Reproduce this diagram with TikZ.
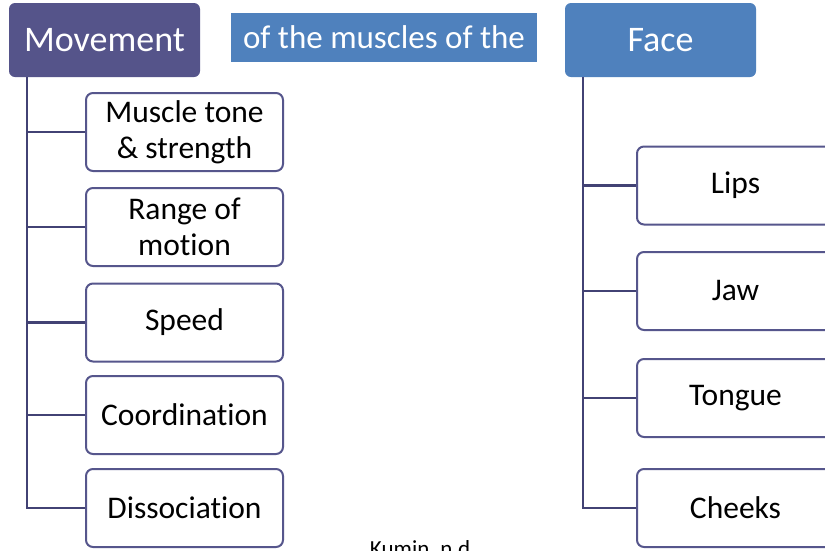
\documentclass[tikz,border=0pt]{standalone}
\usepackage{fontspec}
\setmainfont[Ligatures=NoCommon]{Carlito}
\definecolor{headpurple}{HTML}{55548A}
\definecolor{headblue}{HTML}{4F81BD}
\definecolor{linkline}{HTML}{424274}
\definecolor{boxedge}{HTML}{56568C}
\begin{document}
\begin{tikzpicture}[x=1pt,y=-1pt,
  header/.style={rounded corners=6pt, text=white, inner sep=0pt,
    font=\fontsize{36}{40}\selectfont},
  leaf/.style={draw=boxedge, line width=2pt, rounded corners=7pt, fill=white,
    minimum width=197pt, minimum height=78pt, inner sep=0pt, align=center,
    font=\fontsize{31.5}{36}\selectfont},
  link/.style={draw=linkline, line width=2.2pt}]
\useasboundingbox (0,0) rectangle (825,550);
\clip (0,0) rectangle (825,550);
\fill[white] (0,0) rectangle (825,550);

% headings
\node[header, fill=headpurple, minimum width=191pt, minimum height=74pt] (move) at (104.5,40) {Movement};
\node[fill=headblue, text=white, inner sep=0pt, minimum width=306pt, minimum height=49pt,
  font=\fontsize{33}{38}\selectfont] (middle) at (384,37.5) {of the muscles of the};
\node[header, fill=headblue, minimum width=191pt, minimum height=74pt] (face) at (660.5,40) {Face};

% left branch
\node[leaf] (tone)  at (184.5,132) {Muscle tone\\\& strength};
\node[leaf] (range) at (184.5,227) {Range of\\motion};
\node[leaf] (speed) at (184.5,322.5) {Speed};
\node[leaf] (coord) at (184.5,415) {Coordination};
\node[leaf] (diss)  at (184.5,508) {Dissociation};

\coordinate (ltop) at (27,77);
\draw[link] (ltop) |- (diss.west);
\foreach \n in {tone,range,speed,coord}
  \draw[link] (ltop |- \n.west) -- (\n.west);

% right branch
\node[leaf] (lips)   at (735.5,185.5) {Lips};
\node[leaf] (jaw)    at (735.5,291) {Jaw};
\node[leaf] (tongue) at (735.5,398) {Tongue};
\node[leaf] (cheeks) at (735.5,508) {Cheeks};

\coordinate (rtop) at (583,77);
\draw[link] (rtop) |- (cheeks.west);
\foreach \n in {lips,jaw,tongue}
  \draw[link] (rtop |- \n.west) -- (\n.west);

% source, running off the lower edge
\node[anchor=base, font=\fontsize{23}{26}\selectfont, inner sep=0pt] (src) at (423,556) {Kumin, n.d.};
\end{tikzpicture}
\end{document}
